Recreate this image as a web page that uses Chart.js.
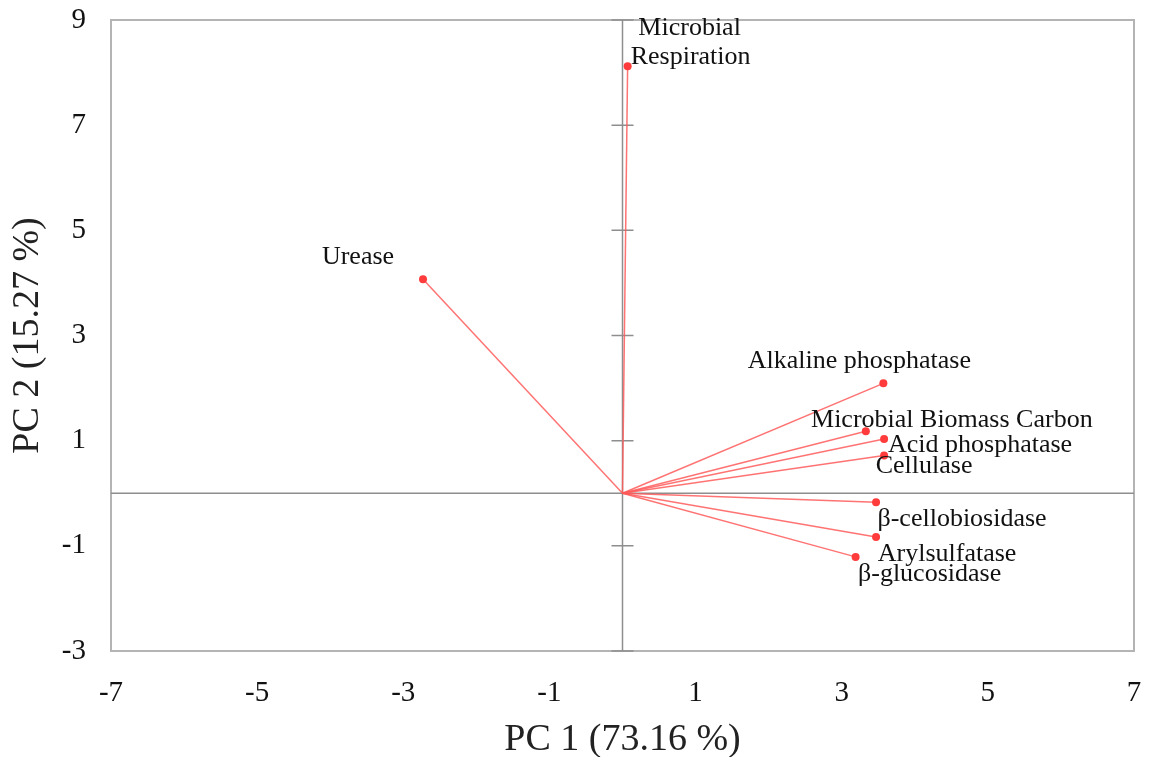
<!DOCTYPE html>
<html>
<head>
<meta charset="utf-8">
<script src="https://cdn.jsdelivr.net/npm/chart.js@4"></script>
<style>
  html, body { margin: 0; padding: 0; background: #fff; }
  #wrap { width: 1153px; height: 757px; }
</style>
</head>
<body>
<div id="wrap"><canvas id="pcaChart"></canvas></div>
<script>
const variables = ['Microbial Respiration', 'Urease', 'Alkaline phosphatase', 'Microbial Biomass Carbon',
    'Acid phosphatase', 'Cellulase', 'β-cellobiosidase', 'Arylsulfatase', 'β-glucosidase'];
const pc1 = [0.07, -2.73, 3.57, 3.33, 3.58, 3.58, 3.47, 3.47, 3.19];
const pc2 = [8.12, 4.07, 2.09, 1.18, 1.03, 0.72, -0.17, -0.83, -1.21];
const xTicks = [-7, -5, -3, -1, 1, 3, 5, 7];
const yTicks = [-3, -1, 1, 3, 5, 7, 9];

const serif = "'Liberation Serif', 'Times New Roman', serif";

// label placement relative to each arrow tip: [dx, dy] of the text centre, one entry per line
const labelOffsets = {
    'Microbial Respiration': [[62, -38, 'Microbial'], [63, -9, 'Respiration']],
    'Urease': [[-65, -22]],
    'Alkaline phosphatase': [[-24, -22]],
    'Microbial Biomass Carbon': [[86, -11]],
    'Acid phosphatase': [[96, 6]],
    'Cellulase': [[40, 11]],
    'β-cellobiosidase': [[86, 17]],
    'Arylsulfatase': [[71, 17]],
    'β-glucosidase': [[74, 17]]
};

// one dataset per variable: a segment from the origin to its loading
const datasets = variables.map((name, i) => ({
    label: name,
    data: [{ x: 0, y: 0 }, { x: pc1[i], y: pc2[i] }],
    showLine: true,
    borderColor: 'rgba(255, 90, 90, 0.85)',
    borderWidth: 1.5,
    pointRadius: [0, 4],
    pointBackgroundColor: '#ff3b3b',
    pointBorderWidth: 0
}));

const biplotFrame = {
    id: 'biplotFrame',
    beforeDatasetsDraw(chart) {
        const { ctx, chartArea: a, scales: { x, y } } = chart;
        const x0 = x.getPixelForValue(0);
        const y0 = y.getPixelForValue(0);
        ctx.save();
        ctx.strokeStyle = '#b4b4b4';
        ctx.lineWidth = 2;
        ctx.strokeRect(a.left, a.top, a.right - a.left, a.bottom - a.top);

        ctx.strokeStyle = '#8e8e8e';
        ctx.lineWidth = 1.5;
        ctx.beginPath();
        ctx.moveTo(a.left, y0); ctx.lineTo(a.right, y0);
        ctx.moveTo(x0, a.top); ctx.lineTo(x0, a.bottom);
        yTicks.forEach(v => {
            const py = y.getPixelForValue(v);
            ctx.moveTo(x0 - 11, py); ctx.lineTo(x0 + 11, py);
        });
        ctx.stroke();
        ctx.restore();
    },
    afterDatasetsDraw(chart) {
        const { ctx, scales: { x, y } } = chart;
        ctx.save();
        ctx.font = '26px ' + serif;
        ctx.fillStyle = '#111';
        ctx.textAlign = 'center';
        ctx.textBaseline = 'middle';
        variables.forEach((name, i) => {
            const px = x.getPixelForValue(pc1[i]);
            const py = y.getPixelForValue(pc2[i]);
            labelOffsets[name].forEach(([dx, dy, text]) => {
                ctx.fillText(text || name, px + dx, py + dy);
            });
        });
        ctx.restore();
    }
};

// tick labels may overhang the plot edges; don't let them shrink the plot
const noOverhang = s => {
    s.paddingTop = 0; s.paddingBottom = 0;
    s.paddingLeft = 0; s.paddingRight = 0;
};

new Chart(document.getElementById('pcaChart'), {
    type: 'scatter',
    data: { datasets },
    plugins: [biplotFrame],
    options: {
        responsive: true,
        maintainAspectRatio: false,
        animation: false,
        layout: { padding: { top: 20, right: 19, left: 0, bottom: 0 } },
        plugins: { legend: { display: false }, tooltip: { enabled: false } },
        scales: {
            x: {
                min: -7, max: 7,
                afterBuildTicks: s => { s.ticks = xTicks.map(v => ({ value: v })); },
                afterFit: s => { s.height = 106; noOverhang(s); },
                grid: { display: false, drawTicks: false },
                border: { display: false },
                ticks: { padding: 25, color: '#111', font: { family: serif, size: 29 } },
                title: {
                    display: true, text: 'PC 1 (73.16 %)', color: '#222',
                    font: { family: serif, size: 38, lineHeight: 0.9 },
                    padding: { top: 0, bottom: 0 }
                }
            },
            y: {
                min: -3, max: 9,
                afterBuildTicks: s => { s.ticks = yTicks.map(v => ({ value: v })); },
                afterFit: s => { s.width = 111; noOverhang(s); },
                grid: { display: false, drawTicks: false },
                border: { display: false },
                ticks: { padding: 25, color: '#111', font: { family: serif, size: 29 } },
                title: {
                    display: true, text: 'PC 2 (15.27 %)', color: '#222',
                    font: { family: serif, size: 38, lineHeight: 1 },
                    padding: { top: 9, bottom: 0 }
                }
            }
        }
    }
});
</script>
</body>
</html>
